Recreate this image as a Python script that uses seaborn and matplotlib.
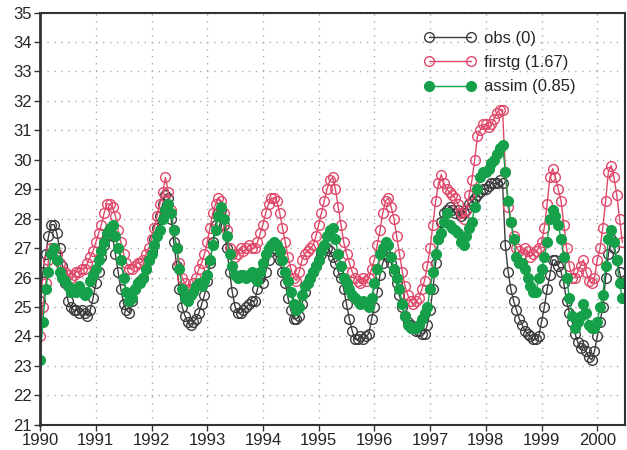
import matplotlib
matplotlib.use("Agg")
import matplotlib.pyplot as plt
import numpy as np
import pandas as pd
import seaborn as sns

# time axis: every 0.05 yr from 1990.00 to 2000.45
years = np.round(1990 + 0.05 * np.arange(210), 2)

obs = [
    25.2, 26.2, 26.8, 27.4, 27.8, 27.8, 27.5, 27.0, 26.4, 25.8, 25.2, 25.0, 24.9, 24.9, 24.8, 24.9, 24.8, 24.7, 24.9, 25.3,  # 1990
    25.8, 26.2, 26.7, 27.1, 27.4, 27.6, 27.4, 26.8, 26.2, 25.6, 25.1, 24.9, 24.8, 25.2, 25.6, 25.8, 25.9, 26.0, 26.3, 26.6,  # 1991
    26.9, 27.3, 27.7, 28.1, 28.5, 28.8, 28.7, 28.0, 27.2, 26.4, 25.6, 25.0, 24.7, 24.5, 24.4, 24.5, 24.6, 24.8, 25.1, 25.4,  # 1992
    25.9, 26.5, 27.2, 27.8, 28.2, 28.3, 27.8, 27.0, 26.2, 25.5, 25.0, 24.8, 24.8, 24.9, 25.0, 25.1, 25.2, 25.2, 25.6, 26.0,  # 1993
    25.8, 26.2, 26.6, 26.9, 27.0, 26.9, 26.6, 26.2, 25.8, 25.3, 24.9, 24.6, 24.6, 24.7, 25.1, 25.5, 25.8, 26.0, 26.2, 26.4,  # 1994
    26.6, 26.8, 27.0, 27.0, 26.9, 26.7, 26.5, 26.2, 26.0, 25.6, 25.1, 24.6, 24.2, 23.9, 23.9, 24.0, 23.9, 24.0, 24.1, 24.6,  # 1995
    25.0, 25.5, 26.1, 26.5, 26.8, 26.7, 26.5, 26.2, 25.8, 25.4, 25.0, 24.7, 24.5, 24.4, 24.3, 24.2, 24.2, 24.1, 24.1, 24.4,  # 1996
    24.9, 25.6, 26.5, 27.3, 27.9, 28.2, 28.3, 28.4, 28.3, 28.2, 28.3, 28.1, 28.2, 28.3, 28.5, 28.6, 28.7, 28.8, 28.9, 29.0,  # 1997
    29.0, 29.1, 29.2, 29.2, 29.2, 29.3, 29.2, 27.1, 26.2, 25.6, 25.2, 24.9, 24.6, 24.4, 24.2, 24.1, 24.0, 23.9, 23.9, 24.0,  # 1998
    24.5, 25.0, 25.6, 26.1, 26.6, 26.6, 26.4, 26.2, 25.8, 25.2, 24.8, 24.5, 24.1, 23.8, 23.6, 23.7, 23.5, 23.3, 23.2, 23.5,  # 1999
    24.0, 24.5, 25.0, 26.0, 26.8, 27.3, 27.0, 26.6, 26.2, 25.8,                                                              # 2000
]

firstg = [
    24.0, 25.0, 25.8, 26.6, 27.0, 27.0, 26.8, 26.5, 26.2, 26.2, 26.1, 26.0, 26.1, 26.2, 26.2, 26.3, 26.3, 26.5, 26.7, 26.9,  # 1990
    27.2, 27.5, 27.8, 28.2, 28.5, 28.5, 28.4, 28.1, 27.6, 27.2, 26.8, 26.5, 26.3, 26.3, 26.4, 26.5, 26.5, 26.6, 26.8, 27.0,  # 1991
    27.3, 27.7, 28.1, 28.5, 28.9, 29.4, 28.9, 28.3, 27.6, 27.0, 26.5, 26.0, 25.8, 25.6, 25.6, 25.8, 26.0, 26.3, 26.5, 26.8,  # 1992
    27.2, 27.7, 28.2, 28.5, 28.7, 28.6, 28.2, 27.6, 27.0, 26.8, 26.7, 26.8, 27.0, 26.9, 27.0, 27.1, 27.0, 27.0, 27.2, 27.5,  # 1993
    27.8, 28.2, 28.5, 28.7, 28.7, 28.6, 28.2, 27.7, 27.2, 26.7, 26.3, 26.0, 25.9, 26.2, 26.6, 26.8, 26.9, 27.0, 27.1, 27.4,  # 1994
    27.8, 28.2, 28.6, 29.0, 29.3, 29.4, 29.0, 28.4, 27.8, 27.2, 26.8, 26.5, 26.2, 26.0, 25.9, 25.8, 26.0, 25.9, 26.0, 26.3,  # 1995
    26.6, 27.1, 27.6, 28.2, 28.6, 28.7, 28.4, 28.0, 27.4, 26.8, 26.2, 25.7, 25.4, 25.2, 25.1, 25.2, 25.3, 25.6, 25.9, 26.4,  # 1996
    27.0, 27.8, 28.6, 29.2, 29.5, 29.2, 29.0, 28.9, 28.8, 28.7, 28.5, 28.2, 28.0, 28.3, 28.8, 29.3, 30.0, 30.8, 31.0, 31.2,  # 1997
    31.2, 31.1, 31.2, 31.4, 31.6, 31.7, 31.7, 29.6, 28.4, 27.9, 27.4, 27.0, 26.9, 26.8, 27.0, 26.9, 26.7, 26.8, 26.9, 27.0,  # 1998
    27.2, 27.7, 28.5, 29.4, 29.7, 29.4, 29.0, 28.6, 27.8, 27.0, 26.4, 26.0, 26.0, 26.2, 26.4, 26.6, 26.2, 25.9, 25.8, 26.0,  # 1999
    26.6, 27.0, 27.7, 28.6, 29.6, 29.8, 29.4, 28.8, 28.0, 27.2,                                                              # 2000
]

assim = [
    23.2, 24.5, 25.6, 26.2, 26.8, 27.0, 26.6, 26.2, 26.0, 25.9, 25.7, 25.5, 25.6, 25.5, 25.7, 25.5, 25.4, 25.5, 25.9, 26.1,  # 1990
    26.3, 26.6, 26.9, 27.2, 27.5, 27.7, 27.8, 27.4, 27.0, 26.6, 26.0, 25.5, 25.2, 25.3, 25.6, 25.8, 25.8, 26.0, 26.3, 26.6,  # 1991
    26.8, 27.1, 27.4, 27.6, 28.0, 28.3, 28.5, 28.2, 27.6, 27.0, 26.3, 25.6, 25.3, 25.2, 25.4, 25.5, 25.7, 25.8, 25.7, 25.9,  # 1992
    26.1, 26.6, 27.1, 27.6, 28.1, 28.4, 28.0, 27.4, 26.8, 26.4, 26.1, 26.0, 26.1, 26.1, 26.0, 26.1, 26.2, 26.0, 25.9, 26.2,  # 1993
    26.5, 26.8, 27.0, 27.1, 27.2, 27.1, 26.9, 26.6, 26.2, 25.9, 25.5, 25.1, 24.9, 25.0, 25.4, 25.7, 25.8, 26.0, 26.2, 26.4,  # 1994
    26.6, 26.9, 27.1, 27.4, 27.6, 27.7, 27.3, 26.8, 26.4, 26.0, 25.8, 25.6, 25.4, 25.3, 25.2, 25.1, 25.2, 25.1, 25.0, 25.3,  # 1995
    25.8, 26.3, 26.8, 27.0, 27.2, 27.1, 26.7, 26.3, 26.0, 25.6, 25.1, 24.7, 24.4, 24.3, 24.3, 24.3, 24.4, 24.6, 24.8, 25.0,  # 1996
    25.6, 26.2, 26.8, 27.3, 27.5, 27.9, 28.2, 27.8, 27.7, 27.6, 27.5, 27.2, 27.1, 27.4, 27.7, 27.9, 28.4, 29.0, 29.4, 29.6,  # 1997
    29.6, 29.7, 29.9, 30.0, 30.2, 30.4, 30.5, 29.6, 28.6, 27.9, 27.3, 26.7, 26.5, 26.5, 26.3, 26.0, 25.7, 25.5, 25.5, 26.0,  # 1998
    26.3, 26.7, 27.2, 28.0, 28.3, 28.1, 27.8, 27.3, 26.7, 26.0, 25.3, 24.7, 24.3, 24.5, 24.7, 25.1, 24.8, 24.4, 24.3, 24.3,  # 1999
    24.5, 25.0, 25.4, 26.4, 27.3, 27.6, 27.2, 26.6, 25.8, 25.3,                                                              # 2000
]

labels = ["obs (0)", "firstg (1.67)", "assim (0.85)"]
colors = ["#3c3c3c", "#e0486a", "#16a04a"]
face = ["none", "none", "#16a04a"]

df = pd.DataFrame({"year": years, "obs": obs, "firstg": firstg, "assim": assim})

sns.set_style("ticks")
plt.rcParams["font.family"] = ["Liberation Sans", "DejaVu Sans"]

fig = plt.figure(figsize=(6.27, 4.5), dpi=100)
ax = fig.add_axes([0.064, 0.056, 0.933, 0.916])

for col, lab, c, fc in zip(["obs", "firstg", "assim"], labels, colors, face):
    sns.lineplot(data=df, x="year", y=col, ax=ax, color=c, linewidth=1.0,
                 marker="o", markersize=7, markerfacecolor=fc,
                 markeredgecolor=c, markeredgewidth=1.0, label=lab, sort=False)

ax.set_xlim(1990, 2000.5)
ax.set_ylim(21, 35)
ax.set_xticks(range(1990, 2001))
ax.set_yticks(range(21, 36))
ax.set_xlabel("")
ax.set_ylabel("")
ax.tick_params(labelsize=12, length=4, width=1, color="#333333", pad=2)
ax.grid(True, color="#aaaaaa", linestyle=(0, (1, 4)), linewidth=1)
for s in ax.spines.values():
    s.set_color("#333333")
    s.set_linewidth(1.5)
ax.spines["left"].set_linewidth(2)

ax.legend(loc="upper left", bbox_to_anchor=(0.656, 0.955), frameon=False,
          numpoints=2, handlelength=3.1, labelspacing=0.55, fontsize=12,
          borderaxespad=0, borderpad=0, handletextpad=0.5)

fig.savefig("out.png", dpi=100)
